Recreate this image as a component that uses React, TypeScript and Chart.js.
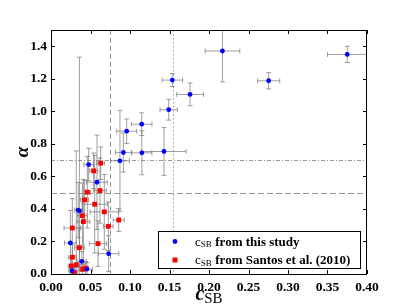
import React, { useEffect, useRef } from "react";
import { Chart, registerables } from "chart.js";

Chart.register(...registerables);

// c_SB from this study
const studyX = [0.217, 0.375, 0.2755, 0.1536, 0.176, 0.149, 0.1148, 0.0958, 0.0916, 0.115, 0.143, 0.0873, 0.073, 0.0477, 0.0582, 0.0345, 0.036, 0.0245, 0.039, 0.0455, 0.0265];
const studyY = [1.371, 1.35, 1.188, 1.192, 1.104, 1.01, 0.921, 0.878, 0.747, 0.745, 0.753, 0.696, 0.125, 0.673, 0.564, 0.393, 0.388, 0.191, 0.078, 0.03, 0.02];
const studyXErr = [0.022, 0.025, 0.014, 0.013, 0.017, 0.011, 0.013, 0.0127, 0.01, 0.0127, 0.028, 0.012, 0.013, 0.006, 0.013, 0.005, 0.004, 0.0074, 0.006, 0.007, 0.004];
const studyYErr = [0.19, 0.05, 0.05, 0.04, 0.07, 0.064, 0.07, 0.075, 0.12, 0.135, 0.147, 0.31, 0.11, 0.1, 0.29, 0.17, 0.945, 0.2, 0.06, 0.04, 0.03];

// c_SB from Santos et al. (2010)
const santosX = [0.0629, 0.054, 0.046, 0.062, 0.0426, 0.0553, 0.0675, 0.0397, 0.041, 0.0857, 0.0726, 0.027, 0.0595, 0.0359, 0.027, 0.032, 0.0257, 0.0435, 0.04, 0.0295];
const santosY = [0.681, 0.634, 0.503, 0.513, 0.456, 0.429, 0.382, 0.359, 0.322, 0.332, 0.293, 0.283, 0.187, 0.162, 0.103, 0.057, 0.049, 0.037, 0.029, 0.01];
const santosXErr = [0.005, 0.005, 0.004, 0.008, 0.005, 0.016, 0.018, 0.006, 0.008, 0.007, 0.006, 0.0105, 0.011, 0.006, 0.005, 0.005, 0.004, 0.004, 0.005, 0.004];
const santosYErr = [0.1, 0.11, 0.22, 0.2, 0.12, 0.3, 0.23, 0.2, 0.26, 0.07, 0.15, 0.18, 0.14, 0.12, 0.08, 0.7, 0.05, 0.04, 0.03, 0.03];

const xTicks = [0, 0.05, 0.1, 0.15, 0.2, 0.25, 0.3, 0.35, 0.4];
const yTicks = [0, 0.2, 0.4, 0.6, 0.8, 1.0, 1.2, 1.4];

const vLineDashed = 0.075;
const vLineDotted = 0.155;
const hLineDashed = 0.5;
const hLineDashDot = 0.7;

const legendLabels = ["from this study", "from Santos et al. (2010)"];

const errs = [
  { xe: studyXErr, ye: studyYErr },
  { xe: santosXErr, ye: santosYErr },
];

const SERIF = '"Liberation Serif", "DejaVu Serif", serif';

const customPlugin = {
  id: "custom",
  beforeDatasetsDraw(chart: any) {
    const { ctx, chartArea: a, scales } = chart;
    const xs = scales.x;
    const ys = scales.y;
    ctx.save();
    ctx.beginPath();
    ctx.rect(a.left, a.top, a.right - a.left, a.bottom - a.top);
    ctx.clip();
    ctx.strokeStyle = "#9a9a9a";
    ctx.lineWidth = 1;
    const vline = (v: number, dash: number[]) => {
      const px = Math.round(xs.getPixelForValue(v)) + 0.5;
      ctx.setLineDash(dash);
      ctx.beginPath();
      ctx.moveTo(px, a.top);
      ctx.lineTo(px, a.bottom);
      ctx.stroke();
    };
    const hline = (v: number, dash: number[]) => {
      const py = Math.round(ys.getPixelForValue(v)) + 0.5;
      ctx.setLineDash(dash);
      ctx.beginPath();
      ctx.moveTo(a.left, py);
      ctx.lineTo(a.right, py);
      ctx.stroke();
    };
    vline(vLineDashed, [5, 3]);
    vline(vLineDotted, [1.5, 2.5]);
    hline(hLineDashed, [6, 3]);
    hline(hLineDashDot, [4, 2, 1, 2]);
    ctx.setLineDash([]);
    ctx.strokeStyle = "rgba(120,120,120,0.7)";
    ctx.lineWidth = 1;
    const cap = 2.5;
    chart.data.datasets.forEach((ds: any, di: number) => {
      const e = errs[di];
      ds.data.forEach((p: any, i: number) => {
        const cx = xs.getPixelForValue(p.x);
        const cy = ys.getPixelForValue(p.y);
        const x0 = xs.getPixelForValue(p.x - e.xe[i]);
        const x1 = xs.getPixelForValue(p.x + e.xe[i]);
        const y0 = ys.getPixelForValue(p.y - e.ye[i]);
        const y1 = ys.getPixelForValue(p.y + e.ye[i]);
        ctx.beginPath();
        ctx.moveTo(x0, cy);
        ctx.lineTo(x1, cy);
        ctx.moveTo(cx, y0);
        ctx.lineTo(cx, y1);
        ctx.moveTo(x0, cy - cap);
        ctx.lineTo(x0, cy + cap);
        ctx.moveTo(x1, cy - cap);
        ctx.lineTo(x1, cy + cap);
        ctx.moveTo(cx - cap, y0);
        ctx.lineTo(cx + cap, y0);
        ctx.moveTo(cx - cap, y1);
        ctx.lineTo(cx + cap, y1);
        ctx.stroke();
      });
    });
    ctx.restore();
  },
  afterDraw(chart: any) {
    const { ctx, chartArea: a, scales } = chart;
    const xs = scales.x;
    const ys = scales.y;
    ctx.save();
    ctx.strokeStyle = "#000";
    ctx.lineWidth = 1;
    const tl = 4;
    ctx.beginPath();
    xTicks.forEach((t) => {
      const px = Math.round(xs.getPixelForValue(t)) + 0.5;
      ctx.moveTo(px, a.bottom);
      ctx.lineTo(px, a.bottom - tl);
      ctx.moveTo(px, a.top);
      ctx.lineTo(px, a.top + tl);
    });
    yTicks.forEach((t) => {
      const py = Math.round(ys.getPixelForValue(t)) + 0.5;
      ctx.moveTo(a.left, py);
      ctx.lineTo(a.left + tl, py);
      ctx.moveTo(a.right, py);
      ctx.lineTo(a.right - tl, py);
    });
    ctx.stroke();
    ctx.strokeRect(a.left + 0.5, a.top + 0.5, a.right - a.left - 1, a.bottom - a.top);

    // legend
    const lx = 158.5, ly = 231.5, lw = 202, lh = 37;
    ctx.fillStyle = "#fff";
    ctx.fillRect(lx, ly, lw, lh);
    ctx.strokeStyle = "#000";
    ctx.strokeRect(lx, ly, lw, lh);
    const rows = [241.5, 260];
    const drawLabel = (yc: number, rest: string) => {
      ctx.fillStyle = "#000";
      ctx.textBaseline = "alphabetic";
      ctx.textAlign = "left";
      let x = 195;
      const base = yc + 4;
      ctx.font = `13px ${SERIF}`;
      ctx.fillText("c", x, base);
      x += ctx.measureText("c").width;
      ctx.font = `9px ${SERIF}`;
      ctx.fillText("SB", x, base + 1.5);
      x += ctx.measureText("SB").width + 3.5;
      ctx.font = `bold 13px ${SERIF}`;
      ctx.fillText(rest, x, base);
    };
    ctx.fillStyle = "#0000ff";
    ctx.beginPath();
    ctx.arc(175, rows[0], 2.4, 0, Math.PI * 2);
    ctx.fill();
    drawLabel(rows[0], legendLabels[0]);
    ctx.fillStyle = "#ff0000";
    ctx.fillRect(172.5, rows[1] - 2.5, 5, 5);
    drawLabel(rows[1], legendLabels[1]);

    // x axis title  c_SB
    ctx.fillStyle = "#000";
    ctx.textAlign = "left";
    ctx.textBaseline = "alphabetic";
    ctx.font = `italic bold 20px ${SERIF}`;
    const cw = ctx.measureText("c").width;
    ctx.font = `15px ${SERIF}`;
    const sw = ctx.measureText("SB").width;
    const cx0 = (a.left + a.right) / 2 - (cw + sw) / 2;
    ctx.font = `italic bold 20px ${SERIF}`;
    ctx.fillText("c", cx0, 300);
    ctx.font = `15px ${SERIF}`;
    ctx.fillText("SB", cx0 + cw, 303);

    // y axis title alpha
    ctx.translate(23, (a.top + a.bottom) / 2);
    ctx.rotate(-Math.PI / 2);
    ctx.font = `italic bold 19px ${SERIF}`;
    ctx.textAlign = "center";
    ctx.textBaseline = "middle";
    ctx.fillText("α", 0, 0);
    ctx.restore();
  },
};

export default function App() {
  const ref = useRef<HTMLCanvasElement | null>(null);
  useEffect(() => {
    if (!ref.current) return;
    const chart = new Chart(ref.current, {
      type: "scatter",
      data: {
        datasets: [
          {
            label: "cSB from this study",
            data: studyX.map((x, i) => ({ x, y: studyY[i] })),
            backgroundColor: "#0000ff",
            borderColor: "#0000ff",
            pointStyle: "circle",
            pointRadius: 2.4,
            borderWidth: 0,
          },
          {
            label: "cSB from Santos et al. (2010)",
            data: santosX.map((x, i) => ({ x, y: santosY[i] })),
            backgroundColor: "#ff0000",
            borderColor: "#ff0000",
            pointStyle: "rect",
            pointRadius: 3.4,
            borderWidth: 0,
          },
        ],
      },
      options: {
        responsive: false,
        animation: false,
        events: [],
        layout: { padding: { left: 0, right: 40, top: 30, bottom: 0 } },
        plugins: { legend: { display: false }, tooltip: { enabled: false } },
        scales: {
          x: {
            type: "linear",
            min: 0,
            max: 0.4,
            afterBuildTicks: (s: any) => {
              s.ticks = xTicks.map((v) => ({ value: v }));
            },
            afterFit: (s: any) => {
              s.height = 31;
            },
            grid: { display: false, drawTicks: false },
            border: { display: false },
            ticks: {
              padding: 5,
              color: "#000",
              maxRotation: 0,
              autoSkip: false,
              font: { family: SERIF, size: 13.5, weight: "bold" },
              callback: (v: any) => Number(v).toFixed(2),
            },
          },
          y: {
            type: "linear",
            min: 0,
            max: 1.5,
            afterBuildTicks: (s: any) => {
              s.ticks = yTicks.map((v) => ({ value: v }));
            },
            afterFit: (s: any) => {
              s.width = 51;
            },
            grid: { display: false, drawTicks: false },
            border: { display: false },
            ticks: {
              padding: 4,
              color: "#000",
              autoSkip: false,
              font: { family: SERIF, size: 13.5, weight: "bold" },
              callback: (v: any) => Number(v).toFixed(1),
            },
          },
        },
      },
      plugins: [customPlugin],
    });
    return () => chart.destroy();
  }, []);
  return (
    <div style={{ position: "fixed", left: 0, top: 0, width: 407, height: 305, background: "#fff" }}>
      <canvas ref={ref} width={407} height={305} />
    </div>
  );
}
